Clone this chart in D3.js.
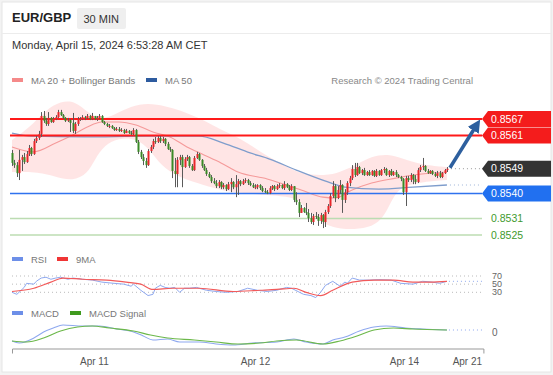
<!DOCTYPE html>
<html>
<head>
<meta charset="utf-8">
<script src="https://cdn.jsdelivr.net/npm/d3@7"></script>
<style>
  body { margin: 0; background: #fff; font-family: "Liberation Sans", Arial, sans-serif; }
  svg text { font-family: "Liberation Sans", Arial, sans-serif; }
</style>
</head>
<body>
<svg id="chart" width="553" height="375"></svg>
<script>
// EUR/GBP 30 min candles (open of each candle = previous close)
var firstOpen = 0.85547;
var closes = [
  0.85511,0.85503,0.85474,0.85522,0.85532,0.85514,0.85543,0.85565,0.85543,0.85590,0.85601,0.85616,0.85681,0.85663,0.85652,0.85674,0.85659,0.85670,0.85677,0.85695,
  0.85684,0.85674,0.85663,0.85666,0.85656,0.85627,0.85652,0.85670,0.85670,0.85677,0.85674,0.85681,0.85670,0.85681,0.85670,0.85674,0.85681,0.85659,0.85652,0.85645,
  0.85645,0.85637,0.85630,0.85634,0.85627,0.85630,0.85619,0.85627,0.85619,0.85616,0.85630,0.85587,0.85551,0.85532,0.85518,0.85503,0.85554,0.85569,0.85590,0.85587,
  0.85601,0.85590,0.85598,0.85580,0.85561,0.85558,0.85482,0.85471,0.85522,0.85532,0.85496,0.85525,0.85532,0.85500,0.85485,0.85529,0.85543,0.85522,0.85500,0.85485,
  0.85471,0.85460,0.85445,0.85438,0.85427,0.85442,0.85423,0.85431,0.85416,0.85434,0.85442,0.85423,0.85434,0.85445,0.85434,0.85445,0.85449,0.85438,0.85431,0.85423,
  0.85423,0.85431,0.85420,0.85409,0.85405,0.85402,0.85420,0.85427,0.85416,0.85427,0.85431,0.85420,0.85434,0.85423,0.85413,0.85427,0.85377,0.85369,0.85330,0.85348,
  0.85333,0.85330,0.85311,0.85297,0.85319,0.85315,0.85301,0.85322,0.85297,0.85333,0.85355,0.85391,0.85427,0.85384,0.85413,0.85431,0.85377,0.85405,0.85438,0.85456,
  0.85489,0.85467,0.85496,0.85474,0.85485,0.85467,0.85478,0.85467,0.85482,0.85464,0.85482,0.85467,0.85485,0.85489,0.85467,0.85482,0.85467,0.85478,0.85467,0.85460,
  0.85453,0.85405,0.85456,0.85449,0.85467,0.85453,0.85442,0.85485,0.85496,0.85500,0.85482,0.85474,0.85482,0.85471,0.85464,0.85474,0.85460,0.85474,0.85485,0.85490
];
var highs = [
  0.85558,0.85522,0.85514,0.85558,0.85540,0.85547,0.85554,0.85576,0.85569,0.85598,0.85608,0.85627,0.85695,0.85699,0.85674,0.85695,0.85677,0.85677,0.85684,0.85703,
  0.85703,0.85688,0.85677,0.85674,0.85670,0.85692,0.85659,0.85677,0.85677,0.85684,0.85681,0.85688,0.85684,0.85692,0.85681,0.85681,0.85688,0.85684,0.85663,0.85656,
  0.85652,0.85648,0.85641,0.85641,0.85641,0.85637,0.85634,0.85634,0.85630,0.85627,0.85637,0.85634,0.85594,0.85558,0.85543,0.85529,0.85561,0.85576,0.85598,0.85605,
  0.85608,0.85608,0.85605,0.85601,0.85587,0.85569,0.85561,0.85529,0.85532,0.85540,0.85540,0.85532,0.85540,0.85536,0.85507,0.85536,0.85551,0.85547,0.85525,0.85507,
  0.85493,0.85478,0.85467,0.85456,0.85449,0.85449,0.85445,0.85438,0.85434,0.85442,0.85456,0.85445,0.85467,0.85453,0.85449,0.85453,0.85456,0.85453,0.85445,0.85438,
  0.85434,0.85434,0.85434,0.85427,0.85420,0.85413,0.85427,0.85431,0.85431,0.85434,0.85438,0.85434,0.85445,0.85438,0.85431,0.85434,0.85427,0.85405,0.85380,0.85359,
  0.85351,0.85366,0.85344,0.85330,0.85326,0.85333,0.85326,0.85330,0.85326,0.85341,0.85362,0.85402,0.85445,0.85434,0.85427,0.85449,0.85434,0.85416,0.85445,0.85464,
  0.85503,0.85511,0.85511,0.85500,0.85489,0.85493,0.85482,0.85485,0.85485,0.85485,0.85489,0.85485,0.85489,0.85496,0.85493,0.85485,0.85489,0.85482,0.85485,0.85471,
  0.85464,0.85456,0.85464,0.85464,0.85474,0.85471,0.85467,0.85493,0.85503,0.85529,0.85503,0.85489,0.85485,0.85485,0.85478,0.85482,0.85482,0.85478,0.85489,0.85496
];
var lows = [
  0.85500,0.85493,0.85460,0.85449,0.85482,0.85507,0.85511,0.85536,0.85536,0.85540,0.85583,0.85594,0.85605,0.85656,0.85645,0.85645,0.85656,0.85656,0.85666,0.85674,
  0.85681,0.85670,0.85659,0.85659,0.85623,0.85619,0.85616,0.85645,0.85663,0.85666,0.85666,0.85670,0.85666,0.85666,0.85666,0.85663,0.85670,0.85656,0.85648,0.85641,
  0.85637,0.85634,0.85627,0.85627,0.85623,0.85623,0.85616,0.85619,0.85616,0.85612,0.85612,0.85583,0.85543,0.85525,0.85503,0.85493,0.85500,0.85547,0.85561,0.85580,
  0.85583,0.85583,0.85583,0.85572,0.85558,0.85551,0.85456,0.85423,0.85423,0.85503,0.85423,0.85493,0.85518,0.85493,0.85482,0.85482,0.85525,0.85518,0.85493,0.85482,
  0.85464,0.85456,0.85438,0.85434,0.85420,0.85420,0.85416,0.85416,0.85409,0.85413,0.85405,0.85416,0.85387,0.85395,0.85427,0.85431,0.85438,0.85431,0.85427,0.85420,
  0.85416,0.85416,0.85413,0.85405,0.85402,0.85398,0.85398,0.85413,0.85409,0.85413,0.85420,0.85416,0.85413,0.85420,0.85409,0.85409,0.85369,0.85359,0.85315,0.85330,
  0.85330,0.85322,0.85297,0.85290,0.85286,0.85308,0.85283,0.85290,0.85275,0.85279,0.85326,0.85348,0.85384,0.85369,0.85380,0.85398,0.85330,0.85366,0.85395,0.85427,
  0.85449,0.85460,0.85464,0.85471,0.85467,0.85464,0.85464,0.85464,0.85464,0.85460,0.85460,0.85464,0.85464,0.85474,0.85464,0.85460,0.85464,0.85464,0.85460,0.85456,
  0.85445,0.85395,0.85355,0.85442,0.85442,0.85434,0.85434,0.85438,0.85478,0.85485,0.85478,0.85471,0.85471,0.85467,0.85460,0.85456,0.85456,0.85456,0.85471,0.85478
];

// indicators, read as [candle index, value]
var ma20 = [[0,0.85569],[9,0.85551],[18,0.85583],[25,0.85612],[31,0.85641],[37,0.85659],[44,0.85659],[51,0.85648],
  [58,0.85623],[65,0.85605],[72,0.85569],[79,0.85540],[86,0.85511],[93,0.85478],[105,0.85453],[119,0.85413],
  [128,0.85387],[133,0.85384],[140,0.85413],[148,0.85438],[158,0.85456],[165,0.85467],[179,0.85478]];
var bbUpper = [[0,0.85594],[7,0.85637],[14,0.85703],[20,0.85735],[26,0.85735],[31,0.85695],[36,0.85666],[42,0.85684],
  [49,0.85717],[56,0.85728],[63,0.85717],[69,0.85703],[79,0.85666],[86,0.85630],[93,0.85605],[98,0.85576],
  [105,0.85536],[114,0.85493],[119,0.85471],[129,0.85464],[135,0.85478],[141,0.85500],[148,0.85536],[155,0.85543],
  [160,0.85529],[169,0.85503],[179,0.85496]];
var bbLower = [[0,0.85478],[11,0.85478],[18,0.85460],[25,0.85445],[31,0.85471],[34,0.85522],[38,0.85576],[44,0.85601],
  [51,0.85601],[57,0.85558],[61,0.85503],[69,0.85456],[79,0.85431],[86,0.85413],[93,0.85402],[105,0.85395],
  [116,0.85387],[119,0.85366],[126,0.85304],[130,0.85283],[137,0.85268],[147,0.85275],[152,0.85304],[155,0.85351],
  [158,0.85405],[162,0.85431],[169,0.85442],[179,0.85449]];
var ma50 = [[0,0.85619],[8,0.85608],[30,0.85605],[55,0.85608],[77,0.85608],[87,0.85583],[98,0.85547],[106,0.85525],
  [117,0.85485],[130,0.85442],[137,0.85423],[151,0.85416],[165,0.85423],[179,0.85431]];

var rsi = [[0,30],[2,25],[5,42],[6,52],[9,50],[10,57],[12,65],[14,67],[16,62],[18,65],[20,67],[23,62],[25,65],[29,62],
  [33,60],[37,55],[42,52],[46,50],[49,45],[50,50],[53,35],[56,22],[58,25],[59,40],[61,47],[63,42],[65,40],[67,42],
  [69,30],[71,40],[73,40],[76,42],[77,40],[80,35],[84,32],[88,30],[93,32],[97,40],[101,35],[105,32],[109,35],[113,42],
  [115,40],[120,25],[123,22],[125,17],[127,30],[129,47],[132,57],[135,45],[137,55],[138,52],[140,65],[143,60],[147,60],
  [151,61],[156,60],[160,52],[165,50],[169,57],[173,55],[176,52],[179,57]];
var rsiMa = [[0,32],[9,40],[16,55],[21,65],[29,62],[39,60],[47,55],[53,50],[58,37],[66,40],[77,40],[91,32],[102,35],
  [109,37],[116,40],[121,30],[127,22],[132,35],[140,55],[149,60],[157,60],[165,55],[172,55],[179,57]];
var rsiLevels = [70, 50, 30];

var macd = [[0,-0.00010],[3,-0.00012],[9,-0.00007],[13,-0.00001],[17,0.00003],[21,0.00006],[29,0.00005],[36,0.00005],
  [43,0.00002],[50,-0.00001],[54,-0.00005],[58,-0.00009],[64,-0.00008],[69,-0.00011],[77,-0.00011],[84,-0.00013],
  [91,-0.00014],[99,-0.00012],[109,-0.00011],[116,-0.00008],[121,-0.00011],[128,-0.00013],[132,-0.00009],[137,-0.00006],
  [143,0],[149,0.00004],[154,0.00005],[162,0.00003],[169,0.00002],[179,0.00001]];
var macdSignal = [[0,-0.00010],[6,-0.00011],[13,-0.00007],[20,0],[27,0.00004],[33,0.00005],[40,0.00003],[50,0],
  [57,-0.00004],[64,-0.00007],[75,-0.00009],[84,-0.00011],[93,-0.00013],[102,-0.00012],[109,-0.00010],[117,-0.00009],
  [128,-0.00013],[135,-0.00010],[142,-0.00005],[149,0.00001],[157,0.00003],[165,0.00002],[179,0.00001]];

// key levels drawn on the right
var levelValues = [0.8567, 0.8561, 0.8549, 0.8540, 0.8531, 0.8525];
var levelKinds  = ["resistance", "resistance", "last", "pivot", "support", "support"];
var targetLevel = 0.8567;

// time axis
var tickLabels = ["Apr 11", "Apr 12", "Apr 14", "Apr 21"];
var tickIndex  = [33.7, 100, 161.3, 187.2];

var svg = d3.select("#chart");
var W = 553, H = 375;

svg.append("rect").attr("width", W).attr("height", H).attr("fill", "#f3f3f3");
svg.append("rect").attr("x", 2).attr("y", 2).attr("width", W - 4).attr("height", H - 5)
  .attr("fill", "#fff").attr("stroke", "#e6e6e6");
svg.append("line").attr("x1", 2).attr("x2", W - 2).attr("y1", 33.5).attr("y2", 33.5)
  .attr("stroke", "#ececec");

// header
svg.append("text").attr("x", 12).attr("y", 22).attr("font-size", "13px")
  .attr("font-weight", "bold").attr("fill", "#222").text("EUR/GBP");
svg.append("rect").attr("x", 77).attr("y", 8).attr("width", 49).attr("height", 21)
  .attr("rx", 2).attr("fill", "#efefef");
svg.append("text").attr("x", 83.5).attr("y", 22.5).attr("font-size", "11px")
  .attr("fill", "#333").text("30 MIN");
svg.append("text").attr("x", 12).attr("y", 49).attr("font-size", "11px")
  .attr("fill", "#333").text("Monday, April 15, 2024 6:53:28 AM CET");

function legendItem(x, y, color, label) {
    svg.append("rect").attr("x", x).attr("y", y - 6).attr("width", 11).attr("height", 4)
      .attr("fill", color);
    svg.append("text").attr("x", x + 19).attr("y", y).attr("font-size", "9.5px")
      .attr("fill", "#777").text(label);
}
legendItem(12, 84, "#f58a8a", "MA 20 + Bollinger Bands");
legendItem(146, 84, "#2d5b9f", "MA 50");
svg.append("text").attr("x", 473).attr("y", 84).attr("text-anchor", "end")
  .attr("font-size", "9.5px").attr("fill", "#888").text("Research \u00a9 2024 Trading Central");

legendItem(12, 263, "#6d8fe8", "RSI");
legendItem(57, 263, "#f03535", "9MA");
legendItem(12, 317, "#6d8fe8", "MACD");
legendItem(70, 317, "#3f9a1e", "MACD Signal");

// scales
var x = d3.scaleLinear().domain([0, 194]).range([12, 483.4]);
var y = d3.scaleLinear().domain([0.8525, 0.8567]).range([235, 119]);
var yR = d3.scaleLinear().domain([30, 70]).range([292.3, 276]);
var yM = d3.scaleLinear().domain([-0.0001, 0.0001]).range([341, 321]);
var plotRight = 482;

var candles = closes.map(function(c, i) {
    var o = i ? closes[i - 1] : firstOpen;
    return { i: i, o: o, c: c,
             h: Math.max(highs[i], o, c), l: Math.min(lows[i], o, c) };
});
var last = candles[candles.length - 1];

// Bollinger band
var edge = d3.line().x(function(d) { return x(d[0]); }).y(function(d) { return y(d[1]); })
  .curve(d3.curveBasis);
svg.append("path")
  .attr("d", edge(bbUpper) + edge(bbLower.slice().reverse()).replace(/^M/, "L") + "Z")
  .attr("fill", "#ffdcdc").attr("fill-opacity", 0.75);

var smooth = d3.line().x(function(d) { return x(d[0]); }).y(function(d) { return y(d[1]); })
  .curve(d3.curveMonotoneX);
svg.append("path").attr("d", smooth(ma20)).attr("fill", "none")
  .attr("stroke", "#f59a9a").attr("stroke-width", 1.1);
svg.append("path").attr("d", smooth(ma50)).attr("fill", "none")
  .attr("stroke", "#7f9dcc").attr("stroke-width", 1.3);

// level lines
levelValues.forEach(function(v, k) {
    var kind = levelKinds[k];
    if (kind == "last") return;
    var color = kind == "resistance" ? "#ff1a1a" : kind == "pivot" ? "#2f72ee" : "#bcdcb2";
    var w = kind == "resistance" ? 2 : 1.5;
    svg.append("line").attr("x1", 10).attr("x2", plotRight)
      .attr("y1", y(v)).attr("y2", y(v))
      .attr("stroke", color).attr("stroke-width", w);
});

// dotted continuations
svg.append("line").attr("x1", x(last.i) + 4).attr("x2", plotRight)
  .attr("y1", y(last.c)).attr("y2", y(last.c))
  .attr("stroke", "#999").attr("stroke-dasharray", "1,3");
var ma50End = ma50[ma50.length - 1];
svg.append("line").attr("x1", x(ma50End[0]) + 3).attr("x2", plotRight)
  .attr("y1", y(ma50End[1])).attr("y2", y(ma50End[1]))
  .attr("stroke", "#9fb4d8").attr("stroke-dasharray", "1,3");

// candles
var cg = svg.append("g");
cg.selectAll("line.wick").data(candles).enter().append("line")
  .attr("class", "wick")
  .attr("x1", function(d) { return Math.round(x(d.i)) + 0.5; })
  .attr("x2", function(d) { return Math.round(x(d.i)) + 0.5; })
  .attr("y1", function(d) { return y(d.h); })
  .attr("y2", function(d) { return y(d.l); })
  .attr("stroke", "#5a5a5a").attr("stroke-width", 1);
cg.selectAll("rect.body").data(candles).enter().append("rect")
  .attr("class", "body")
  .attr("x", function(d) { return Math.round(x(d.i)) - 0.5; })
  .attr("width", 2)
  .attr("y", function(d) { return Math.min(y(d.o), y(d.c)); })
  .attr("height", function(d) { return Math.max(1, Math.abs(y(d.o) - y(d.c))); })
  .attr("fill", function(d) { return d.c >= d.o ? "#e8262a" : "#3a8a27"; });

// arrow to target
var defs = svg.append("defs");
defs.append("marker").attr("id", "head").attr("viewBox", "0 0 10 10")
  .attr("refX", 4).attr("refY", 5).attr("markerWidth", 13).attr("markerHeight", 13)
  .attr("markerUnits", "userSpaceOnUse").attr("orient", "auto")
  .append("path").attr("d", "M0,0L10,5L0,10z").attr("fill", "#2d5f9e");
svg.append("line").attr("x1", x(last.i) + 3).attr("y1", y(last.c) - 1)
  .attr("x2", 476).attr("y2", y(targetLevel) + 7)
  .attr("stroke", "#2d5f9e").attr("stroke-width", 3.5).attr("marker-end", "url(#head)");

// right labels
levelValues.forEach(function(v, k) {
    var kind = levelKinds[k], cy = y(v);
    var fill = kind == "resistance" ? "#f41c1c" : kind == "last" ? "#333" :
               kind == "pivot" ? "#2170f0" : null;
    if (fill) {
        svg.append("path")
          .attr("d", "M" + 482 + "," + cy + "L488," + (cy - 8) + "L551," + (cy - 8) +
                     "L551," + (cy + 8) + "L488," + (cy + 8) + "Z")
          .attr("fill", fill);
    }
    svg.append("text").attr("x", 491).attr("y", cy).attr("dy", "0.35em")
      .attr("font-size", "10.5px").attr("fill", fill ? "#fff" : "#3f9a2e")
      .text(v.toFixed(4));
});

// RSI panel
rsiLevels.forEach(function(v) {
    svg.append("line").attr("x1", 12).attr("x2", plotRight)
      .attr("y1", yR(v)).attr("y2", yR(v))
      .attr("stroke", "#bbb").attr("stroke-dasharray", "1,3");
    svg.append("text").attr("x", 492).attr("y", yR(v)).attr("dy", "0.35em")
      .attr("font-size", "9px").attr("fill", "#666").text(v);
});
var rsiLine = d3.line().x(function(d) { return x(d[0]); }).y(function(d) { return yR(d[1]); });
svg.append("path").attr("d", rsiLine(rsi)).attr("fill", "none")
  .attr("stroke", "#8ea8ef").attr("stroke-width", 1);
svg.append("path").attr("d", rsiLine.curve(d3.curveMonotoneX)(rsiMa)).attr("fill", "none")
  .attr("stroke", "#f25a5a").attr("stroke-width", 1.2);
var rsiLast = rsi[rsi.length - 1];
svg.append("line").attr("x1", x(rsiLast[0]) + 2).attr("x2", plotRight)
  .attr("y1", yR(rsiLast[1])).attr("y2", yR(rsiLast[1]))
  .attr("stroke", "#8ea8ef").attr("stroke-dasharray", "1,3");

// MACD panel
var macdLine = d3.line().x(function(d) { return x(d[0]); }).y(function(d) { return yM(d[1]); })
  .curve(d3.curveMonotoneX);
svg.append("path").attr("d", macdLine(macd)).attr("fill", "none")
  .attr("stroke", "#8ea8ef").attr("stroke-width", 1.1);
svg.append("path").attr("d", macdLine(macdSignal)).attr("fill", "none")
  .attr("stroke", "#6cb84a").attr("stroke-width", 1.2);
var macdLast = macd[macd.length - 1];
svg.append("line").attr("x1", x(macdLast[0]) + 2).attr("x2", plotRight)
  .attr("y1", yM(macdLast[1])).attr("y2", yM(macdLast[1]))
  .attr("stroke", "#8ea8ef").attr("stroke-dasharray", "1,3");
svg.append("text").attr("x", 492).attr("y", yM(0) + 1.5).attr("dy", "0.35em")
  .attr("font-size", "10px").attr("fill", "#666").text("0");

// time axis
var axis = svg.append("g").attr("transform", "translate(0,348.5)")
  .call(d3.axisBottom(x).tickValues(tickIndex).tickSize(0).tickSizeOuter(5).tickPadding(9)
    .tickFormat(function(d, i) { return tickLabels[i]; }));
axis.select(".domain").attr("stroke", "#999");
axis.selectAll("text").attr("font-size", "10px").attr("fill", "#555")
  .attr("font-family", "Liberation Sans, Arial, sans-serif");
</script>
</body>
</html>
